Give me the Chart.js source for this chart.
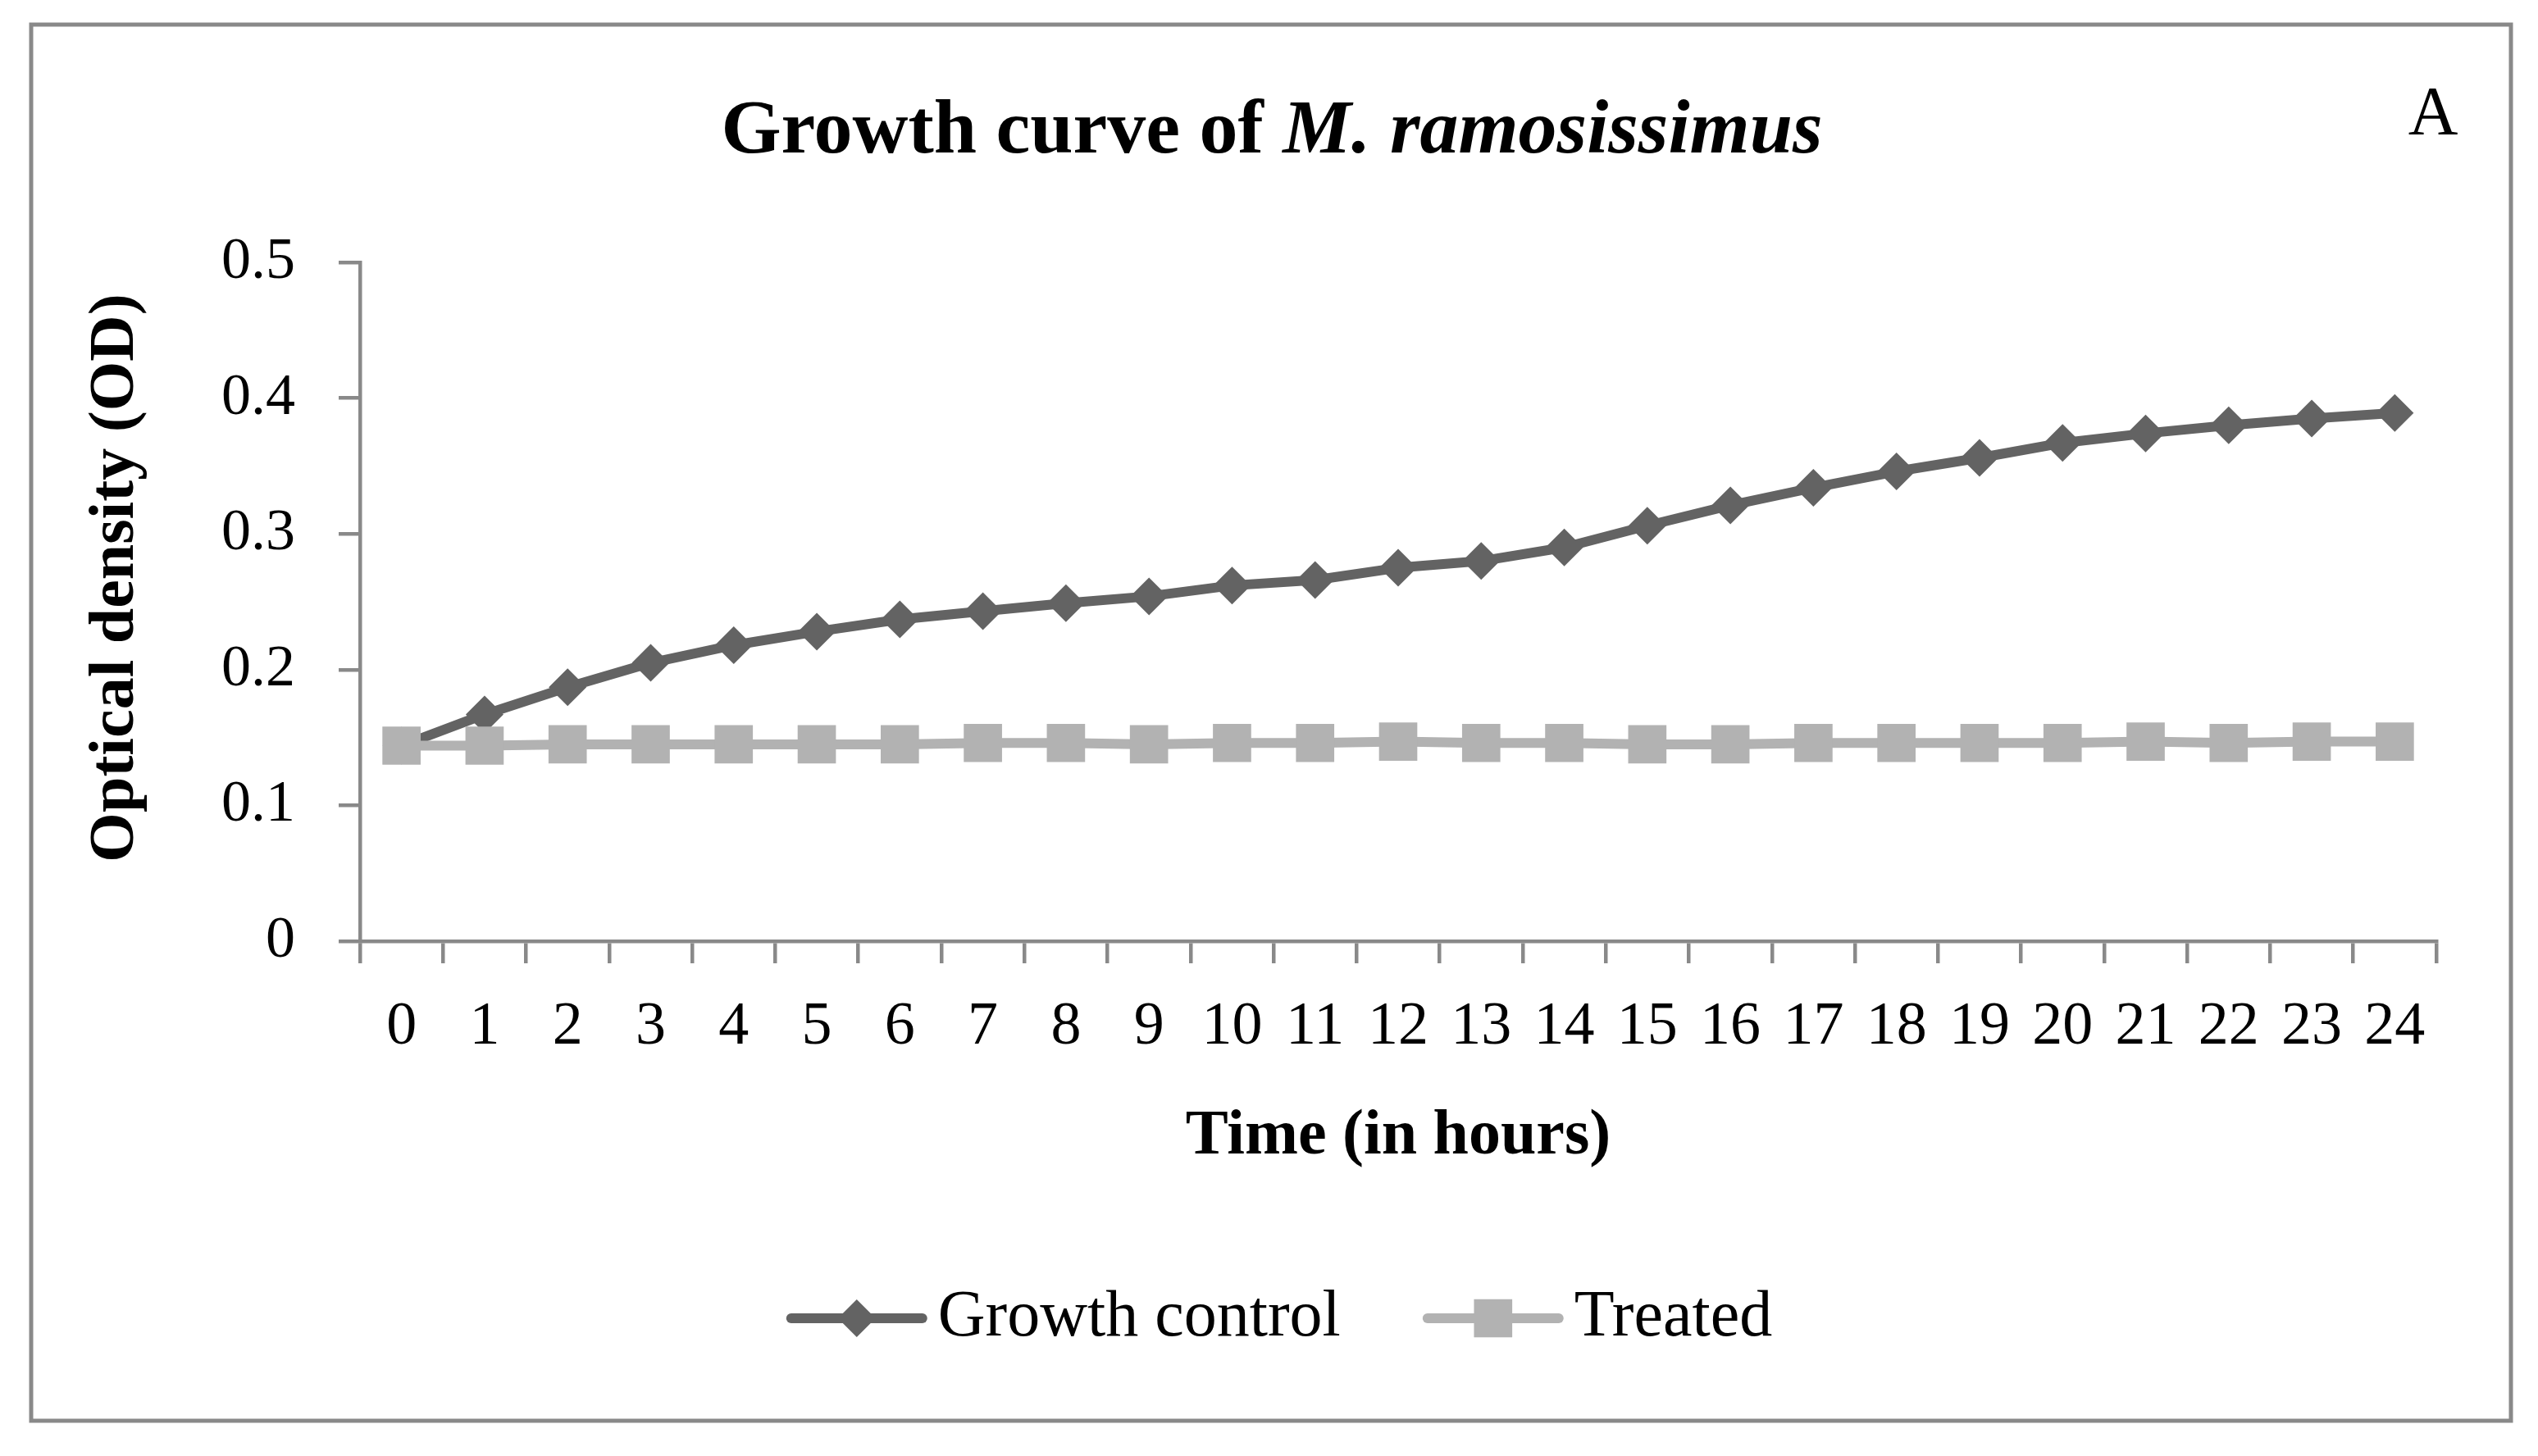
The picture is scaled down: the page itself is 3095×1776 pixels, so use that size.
<!DOCTYPE html>
<html>
<head>
<meta charset="utf-8">
<script src="https://cdn.jsdelivr.net/npm/chart.js@4"></script>
<style>
  html, body { margin: 0; padding: 0; background: #fff; }
  #wrap { width: 3095px; height: 1776px; position: relative; }
</style>
</head>
<body>
<div id="wrap"><canvas id="growthChart" width="3095" height="1776"></canvas></div>
<script>
// hours on the x axis
const hours = ["0","1","2","3","4","5","6","7","8","9","10","11","12","13","14","15","16","17","18","19","20","21","22","23","24"];

// optical density readings
const growthControl = [0.144, 0.167, 0.187, 0.205, 0.218, 0.228, 0.237, 0.243, 0.249, 0.254, 0.262, 0.266, 0.275,
                       0.280, 0.290, 0.306, 0.321, 0.334, 0.346, 0.356, 0.367, 0.374, 0.380, 0.385, 0.389];
const treated = [0.144, 0.144, 0.145, 0.145, 0.145, 0.145, 0.145, 0.146, 0.146, 0.145, 0.146, 0.146, 0.147,
                 0.146, 0.146, 0.145, 0.145, 0.146, 0.146, 0.146, 0.146, 0.147, 0.146, 0.147, 0.147];

const yTickLabels = ["0", "0.1", "0.2", "0.3", "0.4", "0.5"];

const FONT = "'Liberation Serif', 'Times New Roman', serif";
const AXIS_GREY = "#898989";

// frame, title, y title, panel letter and the Excel style legend
const decorations = {
  id: "decorations",
  afterDraw(chart) {
    const ctx = chart.ctx;
    ctx.save();

    ctx.strokeStyle = AXIS_GREY;
    ctx.lineWidth = 5;
    ctx.strokeRect(38, 30, 3062 - 38, 1733 - 30);

    // title: plain part + italic species name
    ctx.fillStyle = "#000";
    ctx.textBaseline = "alphabetic";
    const partA = "Growth curve of ";
    const partB = "M. ramosissimus";
    ctx.font = "bold 94px " + FONT;
    const wA = ctx.measureText(partA).width;
    ctx.font = "italic bold 94px " + FONT;
    const wB = ctx.measureText(partB).width;
    let tx = 1551 - (wA + wB) / 2;
    ctx.font = "bold 94px " + FONT;
    ctx.textAlign = "left";
    ctx.fillText(partA, tx, 186);
    ctx.font = "italic bold 94px " + FONT;
    ctx.fillText(partB, tx + wA, 186);

    ctx.font = "84px " + FONT;
    ctx.textAlign = "center";
    ctx.fillText("A", 2967, 164);

    // y axis title (Excel centres it a little above the plot middle)
    ctx.save();
    ctx.translate(142, 705);
    ctx.rotate(-Math.PI / 2);
    ctx.font = "bold 78px " + FONT;
    ctx.textAlign = "center";
    ctx.textBaseline = "middle";
    ctx.fillText("Optical density (OD)", 0, 0);
    ctx.restore();

    // legend
    const sampleW = 172, gap = 13, itemGap = 100, ly = 1608;
    ctx.font = "80px " + FONT;
    const items = chart.data.datasets.map(ds => ({ ds, w: ctx.measureText(ds.label).width }));
    const total = items.reduce((s, it) => s + sampleW + gap + it.w, 0) + itemGap * (items.length - 1);
    let lx = 1560 - total / 2;
    items.forEach(it => {
      const ds = it.ds;
      ctx.strokeStyle = ds.borderColor;
      ctx.lineWidth = ds.borderWidth;
      ctx.lineCap = "round";
      ctx.beginPath();
      ctx.moveTo(lx + 6, ly);
      ctx.lineTo(lx + sampleW - 6, ly);
      ctx.stroke();
      ctx.fillStyle = ds.pointBackgroundColor;
      Chart.helpers.drawPoint(ctx, {
        pointStyle: ds.pointStyle, radius: ds.pointRadius, rotation: 0, borderWidth: 0
      }, lx + sampleW / 2, ly);
      ctx.fillStyle = "#000";
      ctx.textAlign = "left";
      ctx.textBaseline = "middle";
      ctx.fillText(ds.label, lx + sampleW + gap, ly);
      lx += sampleW + gap + it.w + itemGap;
    });

    ctx.restore();
  }
};

const ctx = document.getElementById("growthChart").getContext("2d");
new Chart(ctx, {
  type: "line",
  data: {
    labels: hours,
    datasets: [{
      label: "Growth control",
      data: growthControl,
      borderColor: "#636363",
      backgroundColor: "#636363",
      pointBackgroundColor: "#636363",
      pointBorderWidth: 0,
      borderWidth: 12,
      pointStyle: "rectRot",
      pointRadius: 23,
      borderJoinStyle: "round",
      borderCapStyle: "round",
      order: 2,
      fill: false
    }, {
      label: "Treated",
      data: treated,
      borderColor: "#b2b2b2",
      backgroundColor: "#b2b2b2",
      pointBackgroundColor: "#b2b2b2",
      pointBorderWidth: 0,
      borderWidth: 12,
      pointStyle: "rect",
      pointRadius: 33,
      borderJoinStyle: "round",
      borderCapStyle: "round",
      order: 1,
      fill: false
    }]
  },
  options: {
    responsive: false,
    animation: false,
    events: [],
    layout: { padding: { top: 320, right: 124, bottom: 342, left: 0 } },
    plugins: {
      legend: { display: false },
      title: { display: false },
      tooltip: { enabled: false }
    },
    scales: {
      x: {
        type: "category",
        offset: true,
        afterFit: s => { s.height = 286; },
        border: { display: true, color: AXIS_GREY, width: 4.5 },
        grid: {
          offset: true, drawOnChartArea: false, drawTicks: true,
          tickLength: 27, color: AXIS_GREY, lineWidth: 4.5
        },
        ticks: {
          padding: 34, color: "#000", maxRotation: 0, autoSkip: false,
          font: { family: FONT, size: 74 }
        },
        title: {
          display: true, text: "Time (in hours)", color: "#000",
          padding: { top: 0, bottom: 0 },
          font: { family: FONT, size: 78, weight: "bold" }
        }
      },
      y: {
        min: 0,
        max: 0.5,
        afterFit: s => { s.width = 439; },
        border: { display: true, color: AXIS_GREY, width: 4.5 },
        grid: {
          drawOnChartArea: false, drawTicks: true,
          tickLength: 26, color: AXIS_GREY, lineWidth: 4.5
        },
        ticks: {
          stepSize: 0.1, padding: 53, color: "#000",
          font: { family: FONT, size: 72 },
          callback: (v, i) => yTickLabels[i]
        },
        title: { display: false }
      }
    }
  },
  plugins: [decorations]
});
</script>
</body>
</html>
